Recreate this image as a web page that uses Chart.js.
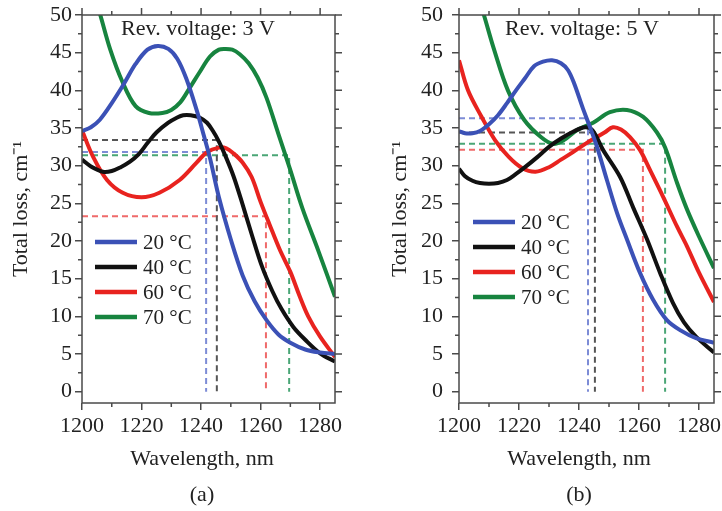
<!DOCTYPE html>
<html>
<head>
<meta charset="utf-8">
<script src="https://cdn.jsdelivr.net/npm/chart.js@4.4.0/dist/chart.umd.min.js"></script>
<style>
  body { margin: 0; background: #fff; }
  #wrap { position: relative; width: 722px; height: 511px; }
  .panel { position: absolute; top: 0; width: 361px; height: 511px; }
</style>
</head>
<body>
<div id="wrap">
  <div class="panel" style="left:0"><canvas id="chartA" width="361" height="511"></canvas></div>
  <div class="panel" style="left:361px"><canvas id="chartB" width="361" height="511"></canvas></div>
</div>
<script>
// series names and colours
const temps = ['20 °C', '40 °C', '60 °C', '70 °C'];
const lineColors = ['#3b51b6', '#111111', '#e8231f', '#17843f'];
const dashColors = ['#7d8cd6', '#555555', '#ef6a6a', '#4aa676'];

// axis ticks
const xTicks = [1200, 1220, 1240, 1260, 1280];
const xMinor = [1210, 1230, 1250, 1270];
const yTicks = [0, 5, 10, 15, 20, 25, 30, 35, 40, 45, 50];
const yMinor = [2.5, 7.5, 12.5, 17.5, 22.5, 27.5, 32.5, 37.5, 42.5, 47.5];

// (a) Rev. voltage 3 V
const wlA20 = [1200, 1203, 1206, 1210, 1214, 1218, 1222, 1225.5, 1229, 1232, 1235, 1238.5, 1241, 1243, 1246, 1250, 1254, 1258, 1262, 1266, 1270, 1275, 1280, 1285];
const lossA20 = [34.6, 35.1, 36.1, 38.3, 40.8, 43.5, 45.4, 45.9, 45.5, 44.2, 41.6, 37.4, 33.9, 31.0, 25.8, 20.2, 15.4, 12.0, 9.5, 7.6, 6.5, 5.6, 5.2, 5.0];
const wlA40 = [1200, 1203, 1207, 1210, 1213, 1216, 1219, 1222, 1225, 1229, 1232, 1234, 1236.5, 1239.5, 1242, 1244, 1246, 1248.5, 1251, 1254, 1257, 1260.5, 1264, 1267, 1271, 1275, 1280, 1285];
const lossA40 = [30.8, 29.9, 29.2, 29.3, 29.8, 30.5, 31.5, 33.0, 34.4, 35.7, 36.4, 36.7, 36.7, 36.4, 35.7, 34.6, 33.2, 31.0, 28.5, 24.8, 20.9, 16.6, 13.3, 11.0, 8.6, 6.9, 5.1, 4.0];
const wlA60 = [1200, 1203.7, 1208.4, 1213.7, 1220, 1226, 1232.8, 1238.5, 1242, 1246, 1248.5, 1251, 1254, 1257, 1260, 1263, 1266.5, 1270, 1273, 1276, 1280, 1285];
const lossA60 = [34.7, 31.2, 28.1, 26.4, 25.8, 26.4, 28.1, 30.4, 31.8, 32.4, 32.3, 31.6, 30.4, 28.5, 25.2, 22.2, 18.8, 15.9, 12.8, 10.0, 7.3, 4.6];
const wlA70 = [1200, 1203, 1206, 1209.5, 1213.5, 1218, 1222.5, 1227, 1230, 1233, 1236, 1239.5, 1243, 1246, 1248, 1250.5, 1253, 1256, 1259, 1262, 1266, 1270, 1274, 1279.5, 1285];
const lossA70 = [58.0, 54.0, 50.2, 45.4, 41.2, 37.9, 37.0, 37.0, 37.4, 38.4, 40.2, 42.4, 44.5, 45.4, 45.5, 45.4, 44.8, 43.6, 41.7, 39.0, 34.2, 29.4, 24.4, 18.6, 12.6];
// dashed guide points (a)
const crossWlA = [1241.7, 1245.3, 1261.8, 1269.6];
const crossLossA = [31.8, 33.4, 23.3, 31.4];

// (b) Rev. voltage 5 V
const wlB20 = [1200, 1202, 1204.5, 1207, 1210, 1213, 1216, 1219, 1222, 1225, 1228, 1231, 1234, 1236.3, 1238.3, 1241.3, 1243.5, 1246, 1249.3, 1252.7, 1256, 1260.3, 1264.7, 1269.3, 1274, 1279, 1285];
const lossB20 = [34.6, 34.3, 34.3, 34.6, 35.5, 36.7, 38.3, 40.0, 41.6, 43.2, 43.8, 44.0, 43.6, 42.7, 41.0, 37.6, 35.3, 32.5, 28.1, 23.7, 20.2, 15.8, 12.2, 9.5, 8.1, 7.1, 6.5];
const wlB40 = [1200, 1202, 1204.5, 1207, 1210, 1213, 1216, 1219, 1222, 1226, 1230, 1234, 1238, 1242, 1244.5, 1248, 1253.7, 1258, 1262.7, 1267, 1271.3, 1275, 1279, 1285];
const lossB40 = [29.6, 28.6, 28.0, 27.7, 27.6, 27.7, 28.1, 28.9, 29.8, 31.1, 32.5, 33.6, 34.5, 35.1, 34.7, 32.1, 28.5, 24.5, 20.2, 15.8, 11.8, 9.2, 7.3, 5.2];
const wlB60 = [1200, 1203, 1207.5, 1212, 1216.5, 1221, 1225.5, 1230, 1234, 1238, 1242.5, 1245.5, 1248.5, 1251.3, 1254, 1257, 1260.3, 1263.7, 1268, 1272.7, 1276, 1280, 1285];
const lossB60 = [44.0, 40.0, 36.5, 33.4, 31.2, 29.7, 29.2, 29.8, 30.8, 31.8, 33.0, 33.7, 34.4, 35.1, 34.8, 33.8, 32.1, 29.4, 25.9, 21.9, 19.3, 15.8, 11.9];
const wlB70 = [1200, 1204, 1208.3, 1211.7, 1216.3, 1221.7, 1227.3, 1231.3, 1235, 1239.3, 1244.7, 1250.3, 1256, 1261.3, 1266, 1268.7, 1272.7, 1276, 1280, 1285];
const lossB70 = [62.0, 55.5, 50.0, 45.4, 40.0, 36.1, 33.8, 32.9, 33.4, 34.7, 35.7, 37.1, 37.4, 36.5, 34.4, 32.4, 27.7, 24.2, 20.6, 16.4];
// dashed guide points (b)
const crossWlB = [1243, 1245.3, 1261.3, 1268.7];
const crossLossB = [36.3, 34.4, 32.1, 32.9];

const serif = 'Liberation Serif, Times New Roman, serif';
const textColor = '#222';
const frameColor = '#4a4a4a';

function pts(xs, ys) {
  return xs.map((x, i) => ({ x: x, y: ys[i] }));
}

function noPad(s) {
  s.paddingLeft = 0; s.paddingRight = 0; s.paddingTop = 0; s.paddingBottom = 0;
}

// frame, top/right ticks, minor ticks, legend, inner title and captions
const decorPlugin = {
  id: 'decor',
  afterDraw(chart, args, o) {
    const ctx = chart.ctx;
    const a = chart.chartArea;
    const sx = chart.scales.x, sy = chart.scales.y;
    ctx.save();
    ctx.strokeStyle = frameColor;
    ctx.lineWidth = 1.5;
    ctx.strokeRect(a.left, a.top, a.right - a.left, a.bottom - a.top);
    ctx.beginPath();
    xTicks.forEach(v => {
      const px = sx.getPixelForValue(v);
      ctx.moveTo(px, a.top); ctx.lineTo(px, a.top - 7);
    });
    xMinor.forEach(v => {
      const px = sx.getPixelForValue(v);
      ctx.moveTo(px, a.top); ctx.lineTo(px, a.top - 4);
      ctx.moveTo(px, a.bottom); ctx.lineTo(px, a.bottom + 4);
    });
    yTicks.forEach(v => {
      const py = sy.getPixelForValue(v);
      ctx.moveTo(a.right, py); ctx.lineTo(a.right + 7, py);
    });
    yMinor.forEach(v => {
      const py = sy.getPixelForValue(v);
      ctx.moveTo(a.right, py); ctx.lineTo(a.right + 4, py);
      ctx.moveTo(a.left, py); ctx.lineTo(a.left - 4, py);
    });
    ctx.stroke();

    // legend
    ctx.font = '21px ' + serif;
    ctx.textBaseline = 'middle';
    ctx.textAlign = 'left';
    temps.forEach((t, i) => {
      const y = o.legendY + i * 25;
      ctx.strokeStyle = lineColors[i];
      ctx.lineWidth = 4.5;
      ctx.beginPath();
      ctx.moveTo(o.legendX, y);
      ctx.lineTo(o.legendX + 42, y);
      ctx.stroke();
      ctx.fillStyle = textColor;
      ctx.fillText(t, o.legendX + 48, y + 1);
    });

    // texts
    ctx.fillStyle = textColor;
    ctx.textAlign = 'center';
    ctx.textBaseline = 'alphabetic';
    ctx.font = '22px ' + serif;
    ctx.fillText(o.title, o.titleX, 35);
    ctx.textBaseline = 'middle';
    ctx.fillText('Wavelength, nm', o.captionX, 459);
    ctx.fillText(o.caption, o.captionX, 495);
    ctx.restore();
  }
};

function makeChart(id, wls, losses, crossWl, crossLoss, p) {
  const datasets = [];
  temps.forEach((t, i) => {
    datasets.push({
      label: t,
      data: pts(wls[i], losses[i]),
      borderColor: lineColors[i],
      borderWidth: 4,
      pointRadius: 0,
      tension: 0.35,
      order: 0
    });
  });
  crossWl.forEach((w, i) => {
    datasets.push({
      label: 'guide ' + temps[i],
      data: [{ x: 1200, y: crossLoss[i] }, { x: w, y: crossLoss[i] }, { x: w, y: 0 }],
      borderColor: dashColors[i],
      borderWidth: 2,
      borderDash: [6, 4],
      pointRadius: 0,
      tension: 0,
      order: 1
    });
  });

  return new Chart(document.getElementById(id), {
    type: 'line',
    data: { datasets: datasets },
    plugins: [decorPlugin],
    options: {
      responsive: false,
      animation: false,
      layout: { padding: { left: 0, right: p.padRight, top: 15, bottom: 0 } },
      plugins: {
        legend: { display: false },
        tooltip: { enabled: false },
        decor: p
      },
      scales: {
        x: {
          type: 'linear',
          min: 1200,
          max: 1285,
          afterBuildTicks: s => { s.ticks = xTicks.map(v => ({ value: v })); },
          afterFit: s => { s.height = 108; noPad(s); },
          grid: { drawOnChartArea: false, drawTicks: true, tickLength: 7, color: frameColor, lineWidth: 1.5 },
          border: { display: false },
          ticks: {
            font: { family: serif, size: 22 }, color: textColor, padding: 3,
            maxRotation: 0, autoSkip: false, callback: v => String(v)
          }
        },
        y: {
          type: 'linear',
          min: -1.5,
          max: 50,
          afterBuildTicks: s => { s.ticks = yTicks.map(v => ({ value: v })); },
          afterFit: s => { s.width = p.left; noPad(s); },
          grid: { drawOnChartArea: false, drawTicks: true, tickLength: 7, color: frameColor, lineWidth: 1.5 },
          border: { display: false },
          ticks: { font: { family: serif, size: 22 }, color: textColor, padding: p.yPad, autoSkip: false },
          title: {
            display: true,
            text: 'Total loss, cm⁻¹',
            font: { family: serif, size: 22 },
            color: textColor,
            padding: { top: p.yTitlePad, bottom: 0 }
          }
        }
      }
    }
  });
}

makeChart('chartA',
  [wlA20, wlA40, wlA60, wlA70],
  [lossA20, lossA40, lossA60, lossA70],
  crossWlA, crossLossA,
  { left: 82, padRight: 26, yPad: 3, yTitlePad: 8, legendX: 95, legendY: 242,
    title: 'Rev. voltage: 3 V', titleX: 198, caption: '(a)', captionX: 202 });

makeChart('chartB',
  [wlB20, wlB40, wlB60, wlB70],
  [lossB20, lossB40, lossB60, lossB70],
  crossWlB, crossLossB,
  { left: 98, padRight: 8, yPad: 9, yTitlePad: 26, legendX: 112, legendY: 222,
    title: 'Rev. voltage: 5 V', titleX: 221, caption: '(b)', captionX: 218 });
</script>
</body>
</html>
